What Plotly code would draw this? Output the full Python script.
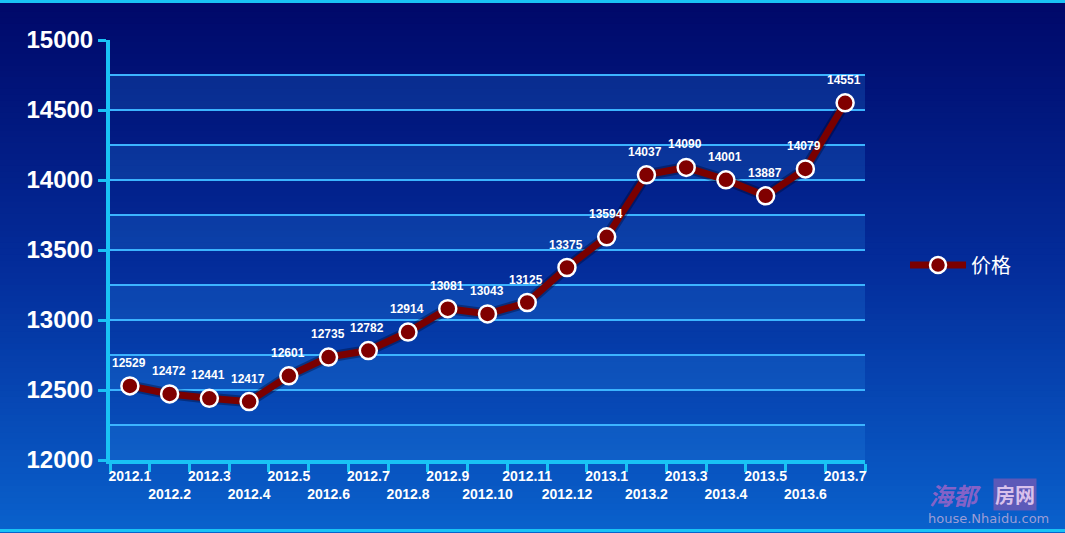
import plotly.graph_objects as go

months = ["2012.1", "2012.2", "2012.3", "2012.4", "2012.5", "2012.6", "2012.7", "2012.8",
          "2012.9", "2012.10", "2012.11", "2012.12", "2013.1", "2013.2", "2013.3", "2013.4",
          "2013.5", "2013.6", "2013.7"]
prices = [12529, 12472, 12441, 12417, 12601, 12735, 12782, 12914, 13081, 13043, 13125,
          13375, 13594, 14037, 14090, 14001, 13887, 14079, 14551]
y_ticks = [12000, 12500, 13000, 13500, 14000, 14500, 15000]
series_name = "价格"

W, H = 1065, 533
L, R, T, B = 110, 200, 40, 73
pw, ph = W - L - R, H - T - B

tick_text = [m if i % 2 == 0 else "<br>" + m for i, m in enumerate(months)]

fig = go.Figure()

# shadow
fig.add_trace(go.Scatter(x=months, y=prices, mode="lines", line=dict(color="rgba(0,0,30,0.35)", width=11),
                         showlegend=False, hoverinfo="skip"))
fig.add_trace(go.Scatter(
    x=months, y=prices, mode="lines+markers", name=series_name,
    line=dict(color="#7a0000", width=7),
    marker=dict(size=17, color="#800000", line=dict(color="white", width=2.5)),
))

annotations = [dict(x=i, y=v, xref="x", yref="y", text=str(v), showarrow=False, yshift=23, xshift=-1,
                    font=dict(family="Liberation Sans, Arial", size=12, color="white", weight="bold"))
               for i, v in enumerate(prices)]

shapes = []
# background gradient
top = (0, 8, 105)
mid = (4, 45, 155)
bot = (10, 98, 205)
n = 90
for i in range(n):
    py0 = H * i / n
    py1 = H * (i + 1) / n + 1
    t = (i + 0.5) / n
    if t < 0.5:
        a, b, s = top, mid, t / 0.5
    else:
        a, b, s = mid, bot, (t - 0.5) / 0.5
    c = tuple(int(a[k] + (b[k] - a[k]) * s) for k in range(3))
    shapes.append(dict(type="rect", xref="paper", yref="paper", layer="below",
                       x0=-L / pw, x1=1 + R / pw,
                       y0=(T + ph - py1) / ph, y1=(T + ph - py0) / ph,
                       fillcolor="rgb(%d,%d,%d)" % c, line=dict(width=0)))
# alternating bands
for lo in range(12000, 15000, 500):
    shapes.append(dict(type="rect", xref="paper", yref="y", layer="below",
                       x0=0, x1=1, y0=lo, y1=lo + 250,
                       fillcolor="rgba(40,140,230,0.22)", line=dict(width=0)))
# top / bottom borders
for yy in [(T + ph - 1.5) / ph, (T + ph - (H - 2.5)) / ph]:
    shapes.append(dict(type="line", xref="paper", yref="paper", layer="above",
                       x0=-L / pw, x1=1 + R / pw, y0=yy, y1=yy,
                       line=dict(color="#19c3f5", width=3)))

annotations += [
    dict(xref="paper", yref="paper", x=(955 - L) / pw, y=(T + ph - 494) / ph, xanchor="center", yanchor="middle",
         text="<i><b>海都</b></i>",
         showarrow=False, font=dict(family="Noto Sans CJK SC", size=24, color="rgba(150,100,200,0.9)")),
    dict(xref="paper", yref="paper", x=(1015 - L) / pw, y=(T + ph - 494) / ph, xanchor="center", yanchor="middle",
         text="<b>房网</b>", bgcolor="rgba(120,90,180,0.75)", borderpad=1,
         showarrow=False, font=dict(family="Noto Sans CJK SC", size=20, color="rgba(225,200,240,0.95)")),
    dict(xref="paper", yref="paper", x=(988 - L) / pw, y=(T + ph - 518) / ph, xanchor="center", yanchor="middle",
         text="house.Nhaidu.com",
         showarrow=False, font=dict(family="DejaVu Sans", size=13, color="rgba(175,165,215,0.9)")),
]

fig.update_layout(
    width=W, height=H,
    margin=dict(l=L, r=R, t=T, b=B),
    paper_bgcolor="#03307f", plot_bgcolor="rgba(0,0,0,0)",
    shapes=shapes, annotations=annotations,
    showlegend=True,
    legend=dict(x=1.053, y=(T + ph - 265) / ph, xanchor="left", yanchor="middle", itemwidth=56,
                font=dict(family="Noto Sans CJK SC", size=20, color="white"),
                bgcolor="rgba(0,0,0,0)"),
    xaxis=dict(type="category", tickmode="array", tickvals=months, ticktext=tick_text,
               tickson="boundaries", ticks="outside", ticklen=8, tickwidth=3, tickcolor="#19c3f5",
               showline=True, linecolor="#19c3f5", linewidth=4, showgrid=False,
               tickfont=dict(family="Liberation Sans, Arial", size=14, color="white", weight="bold"),
               tickangle=0, range=[-0.5, len(months) - 0.5]),
    yaxis=dict(range=[12000, 15000], tickvals=y_ticks, tickformat="d", ticks="outside", ticklen=8, tickwidth=3,
               tickcolor="#19c3f5", showline=True, linecolor="#19c3f5", linewidth=4,
               showgrid=True, gridcolor="#3cb4ff", gridwidth=1.5, zeroline=False,
               minor=dict(dtick=250, showgrid=True, gridcolor="#3cb4ff", gridwidth=1.5, ticks=""),
               tickfont=dict(family="Liberation Sans, Arial", size=24, color="white", weight="bold")),
)

fig.write_html("out.html", config={"displayModeBar": False},
               post_script="document.body.style.margin='0';document.body.style.overflow='hidden';")
